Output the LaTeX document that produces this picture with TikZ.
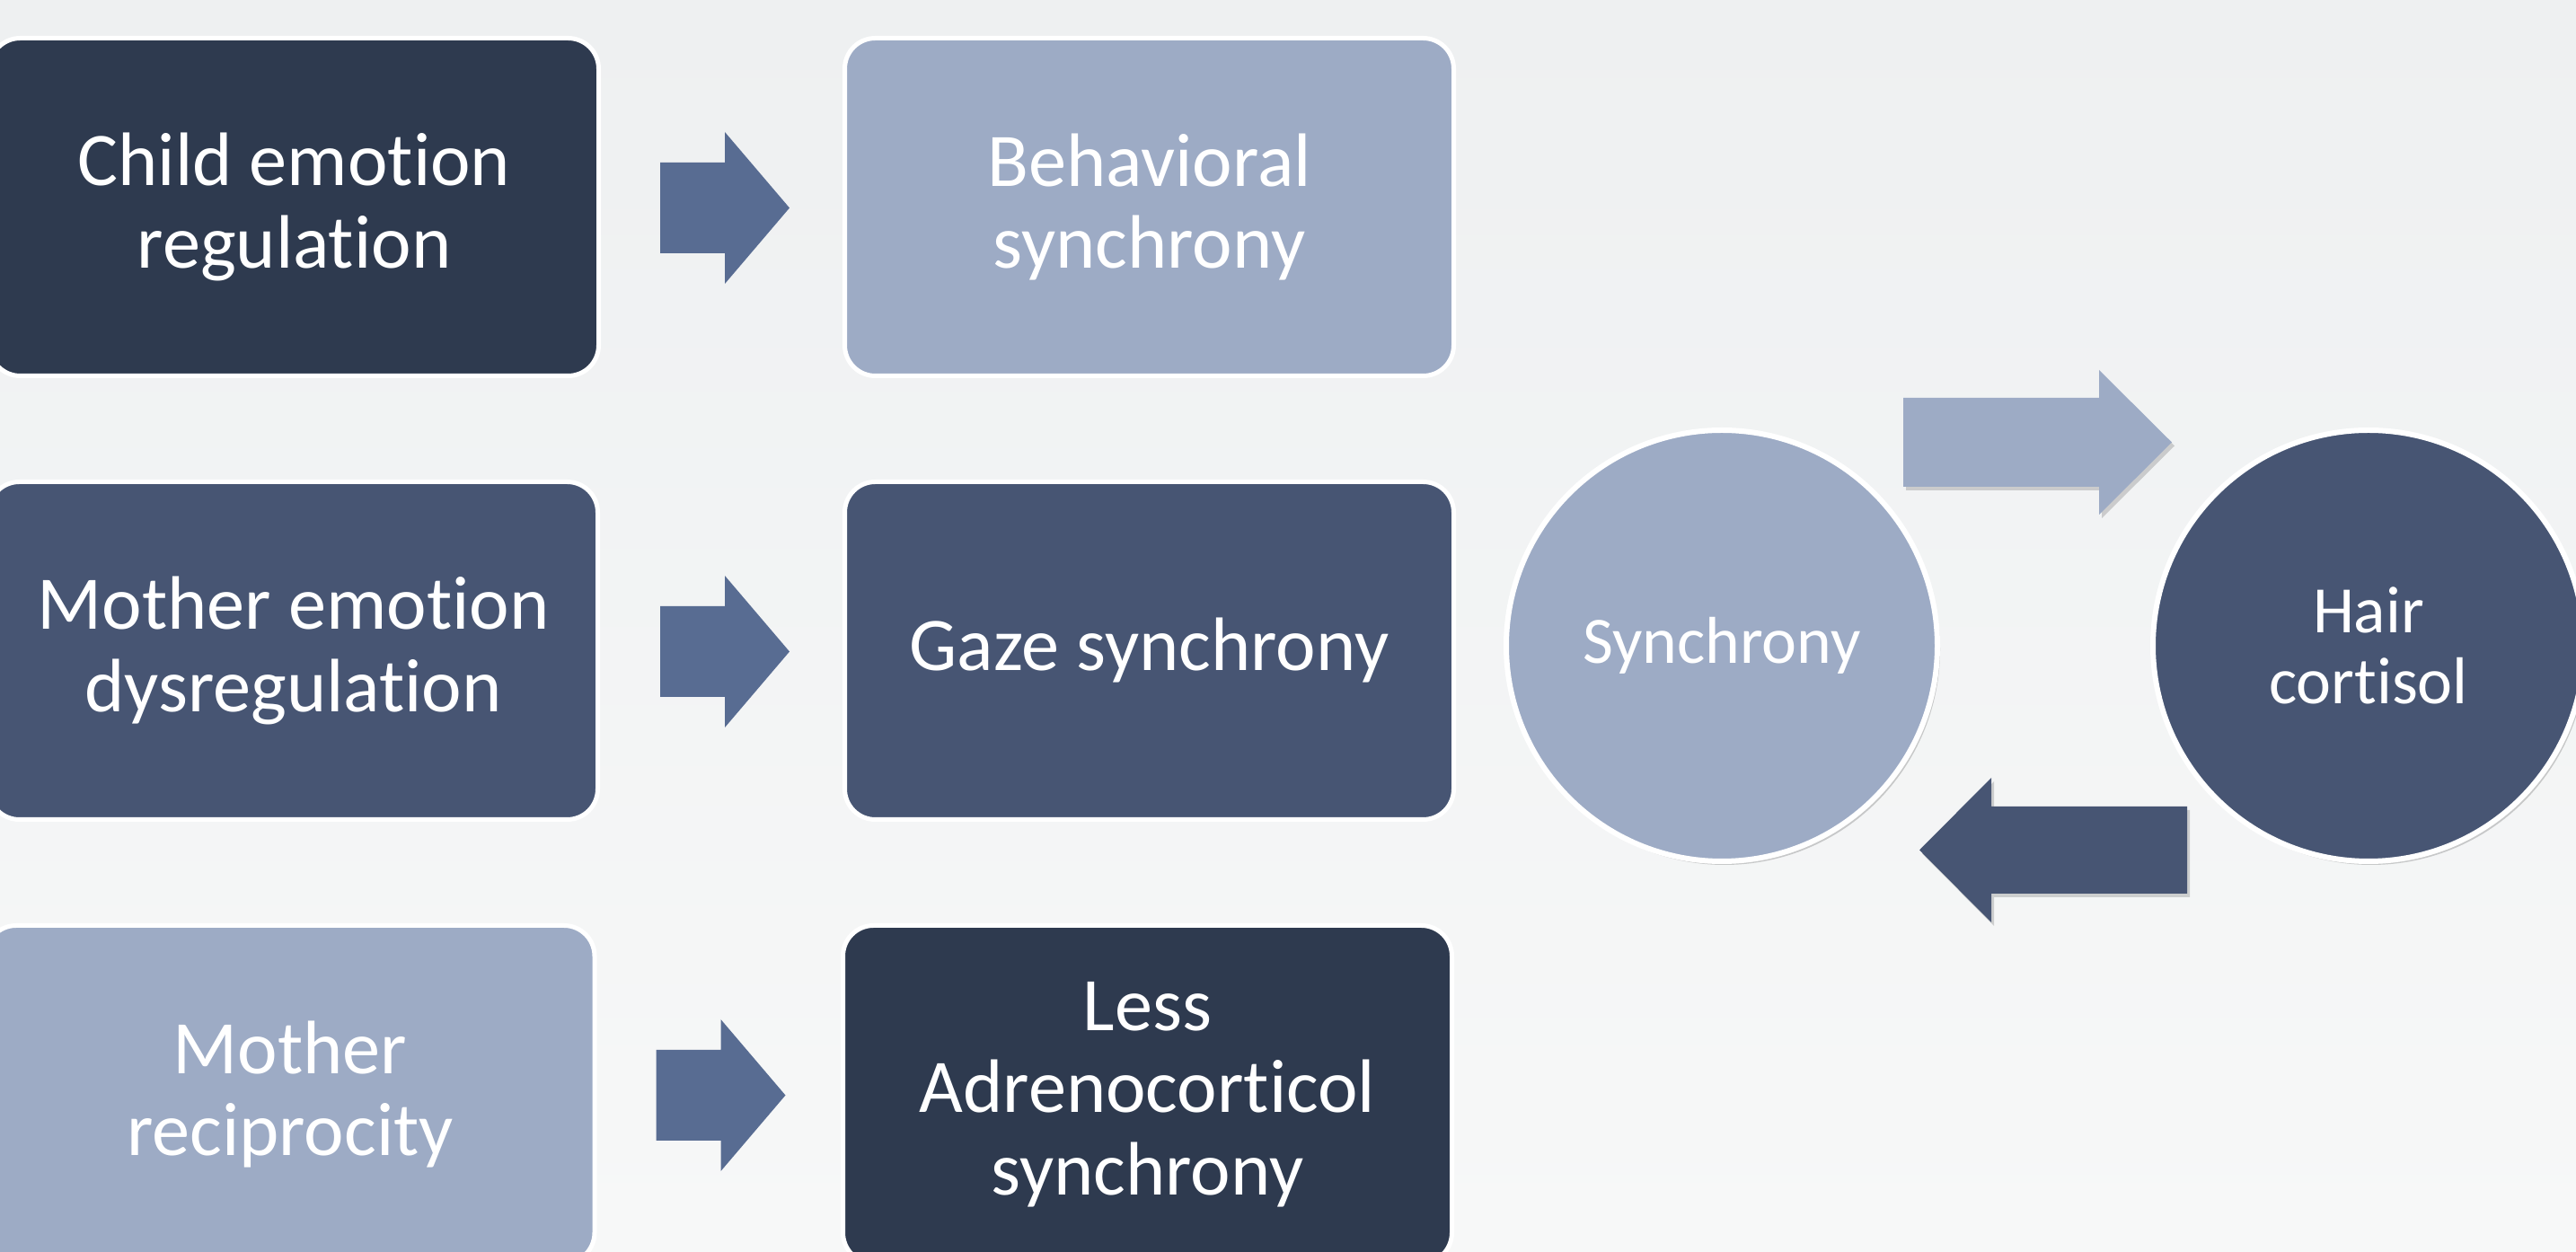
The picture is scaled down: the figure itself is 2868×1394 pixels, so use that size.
\documentclass[tikz,border=0pt]{standalone}
\usepackage{fontspec}
\setmainfont{Carlito}[Ligatures={NoCommon,NoContextual}]
\usetikzlibrary{calc,shadows}
\definecolor{bgtop}{HTML}{EEF0F1}
\definecolor{bgbot}{HTML}{F7F8F8}
\definecolor{darkc}{HTML}{2E3A4F}
\definecolor{midc}{HTML}{475573}
\definecolor{lightc}{HTML}{9DABC5}
\definecolor{arrowc}{HTML}{586C92}
\tikzset{
  box/.style={rectangle, rounded corners=3.4mm, draw=white, line width=0.5mm,
    minimum width=67.8mm, minimum height=37.6mm, inner sep=0pt, outer sep=0pt,
    text=white, align=center, font=\fontsize{24}{26}\selectfont},
  circ/.style={circle, draw=white, line width=0.6mm, minimum size=48mm,
    inner sep=0pt, outer sep=0pt, text=white, align=center,
    font=\fontsize{21}{22.5}\selectfont,
    drop shadow={shadow xshift=0.3mm, shadow yshift=-0.4mm, opacity=0.18, fill=black}},
  smallarrow/.pic={
    \fill[pic actions] (0,-50.5) -- (72,-50.5) -- (72,-84.5) -- (144,0)
      -- (72,84.5) -- (72,50.5) -- (0,50.5) -- cycle;
  },
  bigrarrow/.pic={
    \fill[black,opacity=0.16,shift={(3,4)}] (0,-49.5) -- (218,-49.5) -- (218,-80.5) -- (299,0)
      -- (218,80.5) -- (218,49.5) -- (0,49.5) -- cycle;
    \fill[pic actions] (0,-49.5) -- (218,-49.5) -- (218,-80.5) -- (299,0)
      -- (218,80.5) -- (218,49.5) -- (0,49.5) -- cycle;
  },
  biglarrow/.pic={
    \fill[black,opacity=0.16,shift={(3,4)}] (0,0) -- (80,-80.5) -- (80,-48.5) -- (298,-48.5)
      -- (298,48.5) -- (80,48.5) -- (80,80.5) -- cycle;
    \fill[pic actions] (0,0) -- (80,-80.5) -- (80,-48.5) -- (298,-48.5)
      -- (298,48.5) -- (80,48.5) -- (80,80.5) -- cycle;
  }
}
\begin{document}
\begin{tikzpicture}[x=0.1mm,y=-0.1mm]
\clip (0,0) rectangle (2868,1394);
\shade[top color=bgtop, bottom color=bgbot] (0,0) rectangle (2868,1394);

% left column
\node[box, fill=darkc]   (a1) at (327.5,230.5)  {Child emotion\\regulation};
\node[box, fill=midc]    (a2) at (326.5,724.5)  {Mother emotion\\dysregulation};
\node[box, fill=lightc]  (a3) at (323,1218.5)   {Mother\\reciprocity};
% right column
\node[box, fill=lightc]  (b1) at (1279.5,230.5) {Behavioral\\synchrony};
\node[box, fill=midc]    (b2) at (1279.5,724.5) {Gaze synchrony};
\node[box, fill=darkc]   (b3) at (1277.5,1218.5) {Less\\Adrenocorticol\\synchrony};

% small arrows
\pic[fill=arrowc] at ($(a1.east)+(68.5,1)$) {smallarrow};
\pic[fill=arrowc] at ($(a2.east)+(69.5,1)$) {smallarrow};
\pic[fill=arrowc] at ($(a3.east)+(68.5,1)$) {smallarrow};

% circles
\node[circ, fill=lightc] (sync) at (1917,719) {Synchrony};
\node[circ, fill=midc]   (hair) at (2637,719) {Hair\\cortisol};

% big arrows
\pic[fill=lightc] at ($(sync.center)+(202,-226.5)$) {bigrarrow};
\pic[fill=midc]   at ($(hair.center)+(-500,227.5)$) {biglarrow};
\end{tikzpicture}
\end{document}
